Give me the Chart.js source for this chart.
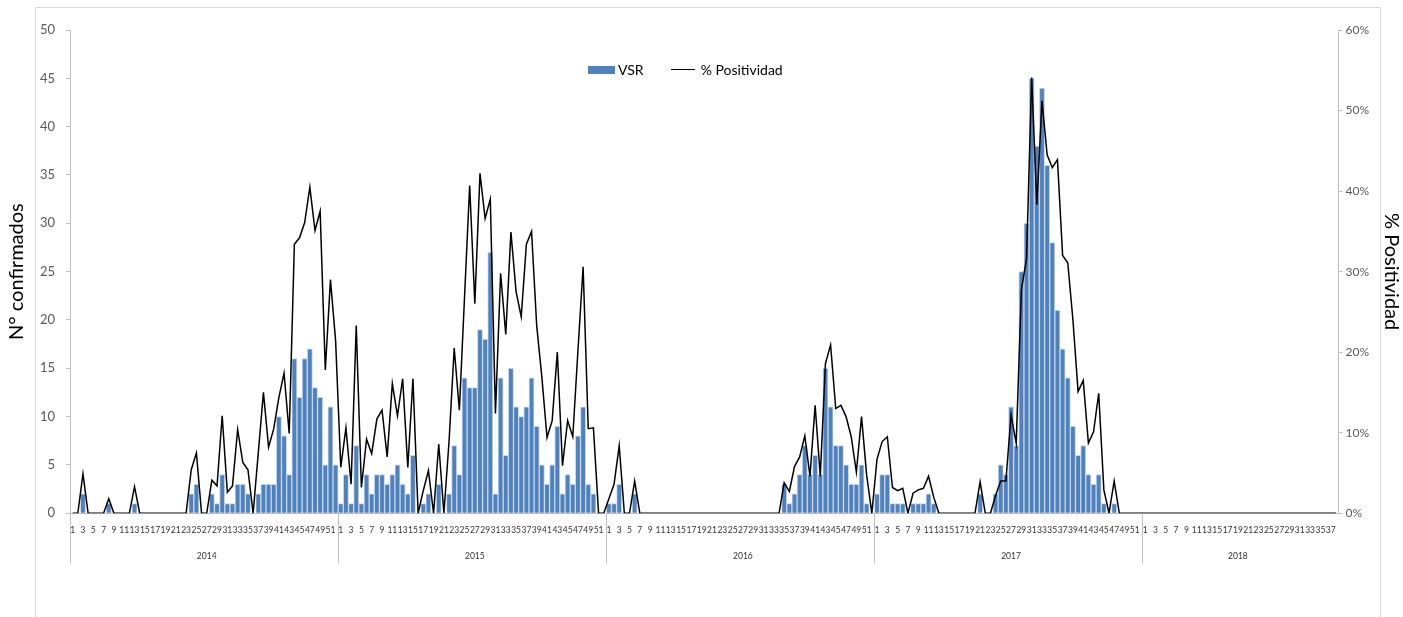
<!DOCTYPE html>
<html>
<head>
<meta charset="utf-8">
<script src="https://cdn.jsdelivr.net/npm/chart.js@4.4.1/dist/chart.umd.min.js"></script>
<style>
  html, body { margin: 0; padding: 0; background: #fff; }
  body { width: 1403px; height: 617px; position: relative; overflow: hidden; font-family: Lato, "Noto Sans", sans-serif; }
  #frame { position: absolute; left: 35px; top: 7px; width: 1346px; height: 640px; border: 1px solid #d9d9d9; box-sizing: border-box; }
  #vsrChart { position: absolute; left: 0; top: 0; }
  #legend { position: absolute; top: 61px; left: 588px; display: flex; align-items: center; font-size: 14px; color: #000; white-space: nowrap; }
  #legend .item { display: flex; align-items: center; margin-right: 27px; }
  #legend .swatch { margin-right: 3px; }
</style>
</head>
<body>
<div id="frame"></div>
<canvas id="vsrChart" width="1403" height="617"></canvas>
<div id="legend"></div>
<script>
// years shown on the axis and how many epi weeks each one has
const years = ["2014", "2015", "2016", "2017", "2018"];
const weeksPerYear = [52, 52, 52, 52, 38];

// VSR confirmed cases per week
const vsr2014 = [0, 0, 2, 0, 0, 0, 0, 1, 0, 0, 0, 0, 1, 0, 0, 0, 0, 0, 0, 0, 0, 0, 0, 2, 3, 0, 0,
  2, 1, 4, 1, 1, 3, 3, 2, 0, 2, 3, 3, 3, 10, 8, 4, 16, 12, 16, 17, 13, 12, 5, 11, 5];
const vsr2015 = [1, 4, 1, 7, 1, 4, 2, 4, 4, 3, 4, 5, 3, 2, 6, 0, 1, 2, 0, 3, 0, 2, 7, 4, 14, 13,
  13, 19, 18, 27, 2, 14, 6, 15, 11, 10, 11, 14, 9, 5, 3, 5, 9, 2, 4, 3, 8, 11, 3, 2, 0, 0];
const vsr2016 = [1, 1, 3, 0, 0, 2, 0, 0, 0, 0, 0, 0, 0, 0, 0, 0, 0, 0, 0, 0, 0, 0, 0, 0, 0, 0,
  0, 0, 0, 0, 0, 0, 0, 0, 3, 1, 2, 4, 7, 4, 6, 4, 15, 11, 7, 7, 5, 3, 3, 5, 1, 0];
const vsr2017 = [2, 4, 4, 1, 1, 1, 0, 1, 1, 1, 2, 1, 0, 0, 0, 0, 0, 0, 0, 0, 2, 0, 0, 2, 5, 4,
  11, 7, 25, 30, 45, 38, 44, 36, 28, 21, 17, 14, 9, 6, 7, 4, 3, 4, 1, 0, 1, 0, 0, 0, 0, 0];
const vsr2018 = [0, 0, 0, 0, 0, 0, 0, 0, 0, 0, 0, 0, 0, 0, 0, 0, 0, 0, 0, 0, 0, 0, 0, 0, 0, 0,
  0, 0, 0, 0, 0, 0, 0, 0, 0, 0, 0, 0];

// % positividad per week
const pos2014 = [0, 0, 4.9, 0, 0, 0, 0, 1.8, 0, 0, 0, 0, 3.3, 0, 0, 0, 0, 0, 0, 0, 0, 0, 0, 5.4, 7.5, 0, 0,
  4.1, 3.4, 12.1, 2.6, 3.4, 10.4, 6.3, 5.4, 0, 7.5, 15.0, 8.2, 10.5, 14.4, 17.4, 9.9, 33.4, 34.2,
  36.1, 40.5, 35.1, 37.5, 17.8, 29.0, 21.4];
const pos2015 = [5.7, 10.6, 3.6, 23.3, 3.2, 9.2, 7.4, 11.7, 12.8, 7.0, 16.1, 12.1, 16.7, 5.7, 16.7, 0,
  2.8, 5.3, 0, 8.6, 0, 8.9, 20.5, 12.8, 26.8, 40.7, 26.0, 42.2, 36.6, 39.0, 12.4, 29.8, 22.2, 34.9,
  27.5, 24.4, 33.4, 35.0, 23.3, 16.9, 9.4, 11.5, 20.0, 5.9, 11.5, 9.5, 20.2, 30.6, 10.5, 10.6, 0, 0];
const pos2016 = [1.8, 3.6, 8.4, 0, 0, 4.0, 0, 0, 0, 0, 0, 0, 0, 0, 0, 0, 0, 0, 0, 0, 0, 0, 0, 0, 0, 0,
  0, 0, 0, 0, 0, 0, 0, 0, 3.8, 2.7, 5.8, 7.0, 9.6, 4.6, 13.4, 4.6, 18.6, 20.9, 13.0, 13.4, 12.0, 9.5,
  5.1, 12.0, 4.7, 0];
const pos2017 = [6.7, 8.9, 9.5, 3.2, 2.8, 3.1, 0, 2.5, 2.9, 3.1, 4.6, 2.0, 0, 0, 0, 0, 0, 0, 0, 0,
  3.9, 0, 0, 2.2, 4.0, 4.0, 12.2, 8.7, 27.7, 31.6, 54.1, 38.3, 51.2, 44.5, 42.9, 43.9, 32.0, 31.1,
  24.0, 15.1, 16.5, 8.7, 10.1, 14.9, 2.9, 0, 4.0, 0, 0, 0, 0, 0];
const pos2018 = [0, 0, 0, 0, 0, 0, 0, 0, 0, 0, 0, 0, 0, 0, 0, 0, 0, 0, 0, 0, 0, 0, 0, 0, 0, 0,
  0, 0, 0, 0, 0, 0, 0, 0, 0, 0, 0, 0];

const vsrByYear = [vsr2014, vsr2015, vsr2016, vsr2017, vsr2018];
const posByYear = [pos2014, pos2015, pos2016, pos2017, pos2018];

// one category per week, with the year it belongs to
const labels = [];
const weekNum = [];
const yearLabelAt = {};
years.forEach((y, yi) => {
  const mid = Math.round(weeksPerYear[yi] / 2) | 1;
  for (let w = 1; w <= weeksPerYear[yi]; w++) {
    if (w === mid) yearLabelAt[labels.length] = y;
    labels.push(y + "-" + w);
    weekNum.push(w);
  }
});
const vsr = [].concat(...vsrByYear);
const positividad = [].concat(...posByYear);

Chart.defaults.font.family = 'Lato, "Noto Sans", sans-serif';
Chart.defaults.color = "#595959";

const isYearEdge = (i) => i >= labels.length || weekNum[i] === 1;

const chart = new Chart(document.getElementById("vsrChart"), {
  type: "bar",
  data: {
    labels: labels,
    datasets: [
      {
        type: "line",
        label: "% Positividad",
        data: positividad,
        yAxisID: "y2",
        borderColor: "#000000",
        backgroundColor: "#000000",
        borderWidth: 1.5,
        pointRadius: 0,
        tension: 0,
        order: 0
      },
      {
        label: "VSR",
        data: vsr,
        yAxisID: "y",
        backgroundColor: "#4f81bd",
        borderColor: "#c6d6ec",
        borderWidth: 1,
        borderSkipped: "bottom",
        barPercentage: 1,
        categoryPercentage: 1,
        order: 1
      }
    ]
  },
  options: {
    responsive: false,
    animation: false,
    devicePixelRatio: 1,
    layout: { padding: { left: 5, right: 0, top: 30, bottom: 17 } },
    plugins: {
      legend: { display: false },
      tooltip: { enabled: false }
    },
    scales: {
      x: {
        offset: true,
        grid: {
          offset: true,
          drawOnChartArea: false,
          drawTicks: true,
          tickLength: 50,
          lineWidth: 1,
          color: (ctx) => (isYearEdge(ctx.index) ? "#bfbfbf" : "rgba(0,0,0,0)")
        },
        border: { display: true, color: "#bfbfbf" },
        ticks: {
          autoSkip: false,
          maxRotation: 0,
          minRotation: 0,
          padding: -39,
          color: "#333333",
          font: { size: 8.5, lineHeight: 1.5 },
          // week number on the first line, year under the middle week;
          // blank lines keep the labels inside the axis box
          callback: function (value, index) {
            const w = weekNum[index];
            const txt = w % 2 === 1 ? String(w) : "";
            return [txt, "", yearLabelAt[index] || "", "", "", "", "", "", ""];
          }
        }
      },
      y: {
        position: "left",
        min: 0,
        max: 50,
        ticks: { stepSize: 5, padding: 11, font: { size: 13 }, color: "#595959" },
        grid: { drawOnChartArea: false, tickLength: 4, color: "#bfbfbf" },
        border: { color: "#bfbfbf" },
        title: {
          display: true,
          text: "N° confirmados",
          color: "#000000",
          font: { size: 20 },
          padding: { top: 0, bottom: 0 }
        }
      },
      y2: {
        position: "right",
        min: 0,
        max: 60,
        ticks: {
          stepSize: 10,
          padding: 3,
          font: { size: 12 },
          color: "#595959",
          callback: (v) => v + "%"
        },
        grid: { drawOnChartArea: false, tickLength: 4, color: "#bfbfbf" },
        border: { color: "#bfbfbf" },
        title: {
          display: true,
          text: "% Positividad",
          color: "#000000",
          font: { size: 20 },
          padding: { top: 0, bottom: 7 }
        }
      }
    }
  }
});

// legend in html, laid over the plot like the original
const legendEl = document.getElementById("legend");
[chart.data.datasets[1], chart.data.datasets[0]].forEach((ds) => {
  const item = document.createElement("div");
  item.className = "item";
  const sw = document.createElement("span");
  sw.className = "swatch";
  if (ds.type === "line") {
    sw.style.cssText = "display:inline-block;width:24px;height:0;border-top:1.5px solid " + ds.borderColor + ";margin-right:6px";
  } else {
    sw.style.cssText = "display:inline-block;width:27px;height:8px;background:" + ds.backgroundColor;
  }
  const tx = document.createElement("span");
  tx.textContent = ds.label;
  item.appendChild(sw);
  item.appendChild(tx);
  legendEl.appendChild(item);
});
</script>
</body>
</html>
